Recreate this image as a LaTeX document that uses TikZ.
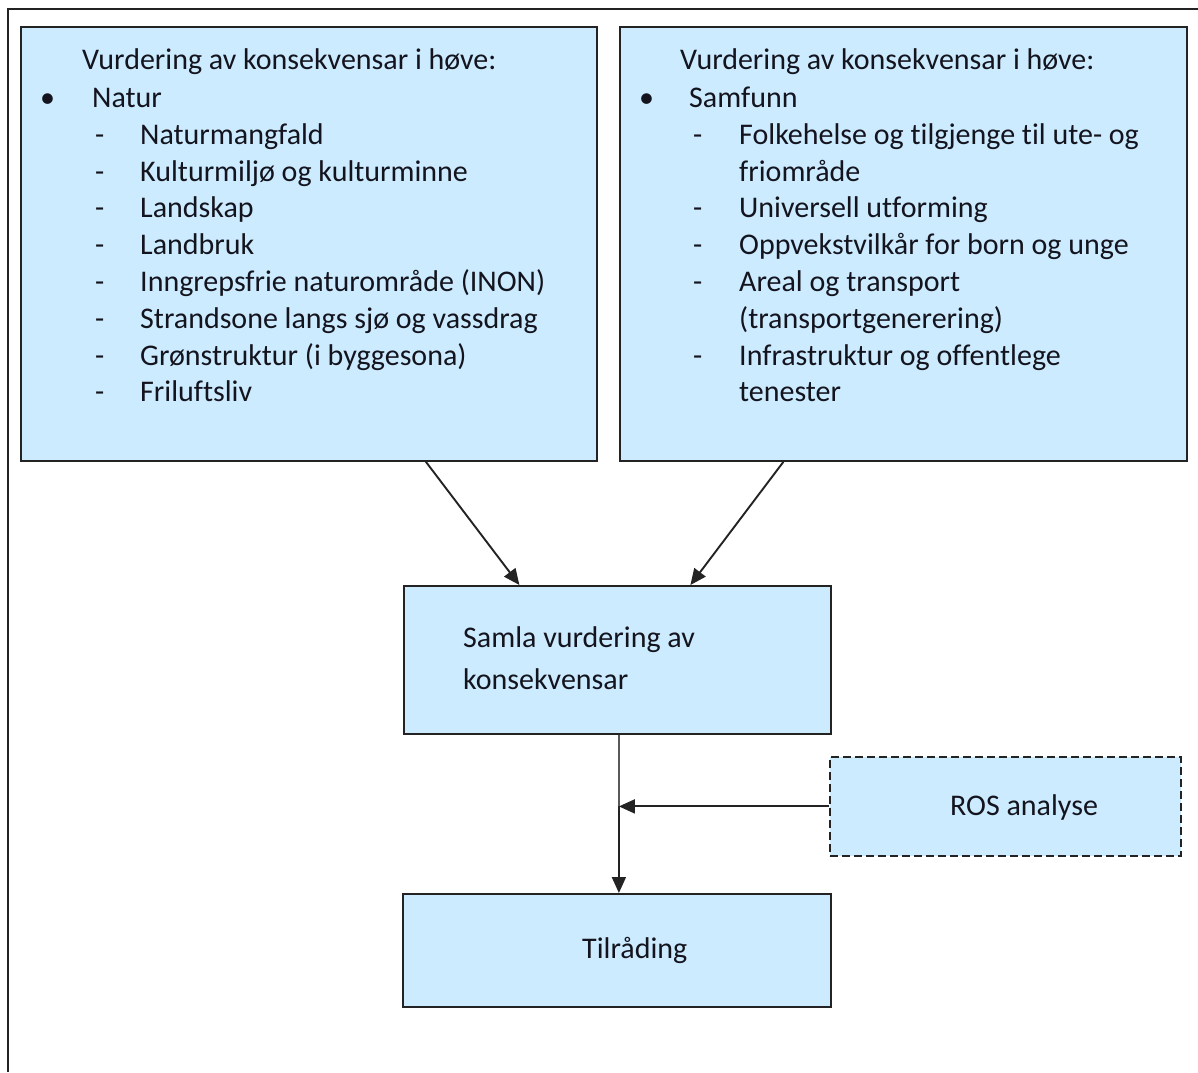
\documentclass[tikz,border=0pt]{standalone}
\usepackage{fontspec}
\setmainfont{Carlito}[RawFeature=-liga]
\usetikzlibrary{arrows.meta}
\definecolor{boxfill}{RGB}{204,235,255}
\definecolor{edge}{RGB}{35,35,35}
\definecolor{ink}{RGB}{20,20,30}
\begin{document}
\begin{tikzpicture}[x=1pt,y=-1pt,
  box/.style={draw=edge, line width=1.8pt, fill=boxfill, inner sep=0pt, anchor=north west},
  txt/.style={anchor=base west, inner sep=0pt, text=ink, font=\fontsize{30pt}{36pt}\selectfont},
  arr/.style={draw=edge, line width=1.9pt, -{Triangle[length=16pt,width=14pt]}}]
\useasboundingbox (0,0) rectangle (1198,1072);
\draw[edge, line width=1.8pt] (1198,9) -- (8,9) -- (8,1072);
% boxes
\node[box, minimum width=576pt, minimum height=434pt] (natur) at (20,26) {};
\node[box, minimum width=567pt, minimum height=434pt] (samf) at (619,26) {};
\node[box, minimum width=427pt, minimum height=148pt] (samla) at (403,585) {};
\node[box, dashed, dash pattern=on 8pt off 4pt, minimum width=351pt, minimum height=99pt] (ros) at (829,756) {};
\node[box, minimum width=428pt, minimum height=113pt] (tilr) at (402,893) {};
% left text
\node[txt] (l0) at (82,69) {Vurdering av konsekvensar i høve:};
\node[txt] (lb) at (40,107) {•};
\node[txt] (l1) at (92,107) {Natur};
\foreach \y/\t [count=\i] in {144/Naturmangfald,181/Kulturmiljø og kulturminne,217/Landskap,254/Landbruk,291/Inngrepsfrie naturområde (INON),328/Strandsone langs sjø og vassdrag,365/Grønstruktur (i byggesona),401/Friluftsliv}{
  \node[txt] (ld\i) at (95,\y) {-};
  \node[txt] (li\i) at (140,\y) {\t};
}
% right text
\node[txt] (r0) at (680,69) {Vurdering av konsekvensar i høve:};
\node[txt] (rb) at (639,107) {•};
\node[txt] (r1) at (689,107) {Samfunn};
\foreach \y [count=\i] in {144,217,254,291,365}{
  \node[txt] (rd\i) at (693,\y) {-};
}
\node[txt] (ri1) at (739,144) {Folkehelse og tilgjenge til ute- og};
\node[txt] (ri1b) at (739,181) {friområde};
\node[txt] (ri2) at (739,217) {Universell utforming};
\node[txt] (ri3) at (739,254) {Oppvekstvilkår for born og unge};
\node[txt] (ri4) at (739,291) {Areal og transport};
\node[txt] (ri4b) at (739,328) {(transportgenerering)};
\node[txt] (ri5) at (739,365) {Infrastruktur og offentlege};
\node[txt] (ri5b) at (739,401) {tenester};
% middle texts
\node[txt] (s1) at (463,647) {Samla vurdering av};
\node[txt] (s2) at (463,689) {konsekvensar};
\node[txt] (rost) at (950,815) {ROS analyse};
\node[txt] (tt) at (582,958) {Tilråding};
% connectors
\coordinate (top) at ([xshift=1.5pt]samla.south);
\coordinate (join) at (top |- ros.west);
\draw[arr] ([xshift=117pt]natur.south) -- ([xshift=-98pt]samla.north);
\draw[arr] ([xshift=-120pt]samf.south) -- ([xshift=73pt]samla.north);
\draw[draw=gray!70!black, line width=1.5pt] (top) -- (join);
\draw[arr] (join) -- (join |- tilr.north);
\draw[arr] (ros.west) -- (join);
\end{tikzpicture}
\end{document}
